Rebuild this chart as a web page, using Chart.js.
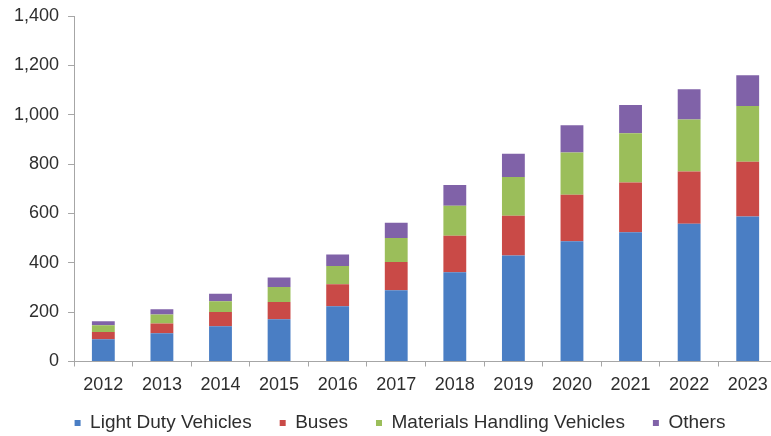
<!DOCTYPE html>
<html>
<head>
<meta charset="utf-8">
<script src="https://cdn.jsdelivr.net/npm/chart.js@4/dist/chart.umd.min.js"></script>
<style>
    html, body { margin: 0; padding: 0; background: #fff; overflow: hidden; }
    #wrap { width: 777px; height: 436px; }
</style>
</head>
<body>
<div id="wrap"><canvas id="marketChart" width="777" height="436"></canvas></div>
<script>
// Lata i wartości segmentów (stos)
const years = ['2012', '2013', '2014', '2015', '2016', '2017', '2018', '2019', '2020', '2021', '2022', '2023'];
const lightDuty = [90, 114, 143, 171, 224, 289, 362, 430, 487, 524, 558, 588];
const buses = [30, 40, 58, 70, 89, 114, 148, 161, 189, 201, 212, 221];
const materialsHandling = [27, 36, 43, 61, 74, 97, 121, 157, 171, 200, 211, 226];
const others = [16, 22, 31, 38, 47, 62, 84, 94, 110, 114, 122, 125];

const seriesNames = ['Light Duty Vehicles', 'Buses', 'Materials Handling Vehicles', 'Others'];
const seriesColors = ['#4A7EC4', '#C94A47', '#9BBE5A', '#8062A8'];

const axisColor = '#a6a6a6';
const textColor = '#2e2e2e';
const font = { family: 'Arial, "Liberation Sans", sans-serif', size: 18 };

const datasets = [lightDuty, buses, materialsHandling, others].map((values, i) => ({
    label: seriesNames[i],
    data: values,
    backgroundColor: seriesColors[i],
    borderWidth: 0,
    barPercentage: 0.39,
    categoryPercentage: 1
}));

// Oś X jest niska (afterFit), więc rozszerzamy obszar przycinania etykiet lat;
// legendę przesuwamy lekko w prawo
const layoutTweaks = {
    id: 'layoutTweaks',
    afterLayout(chart) {
        chart.scales.x.bottom = chart.height;
        chart.legend.left += 9;
        chart.legend.right += 9;
    }
};

new Chart(document.getElementById('marketChart'), {
    type: 'bar',
    data: { labels: years, datasets },
    plugins: [layoutTweaks],
    options: {
        responsive: false,
        animation: false,
        // ujemny dolny margines: legenda ma duży padding (odstępy między pozycjami)
        layout: { padding: { left: 5, right: 0, top: 0, bottom: -6.5 } },
        plugins: {
            tooltip: { enabled: false },
            legend: {
                position: 'bottom',
                labels: {
                    color: textColor,
                    font: { family: font.family, size: 19 },
                    boxWidth: 6,
                    boxHeight: 6,
                    padding: 28
                }
            }
        },
        scales: {
            x: {
                stacked: true,
                grid: {
                    offset: true,
                    drawOnChartArea: false,
                    drawTicks: true,
                    tickLength: 5,
                    color: axisColor
                },
                border: { color: axisColor, width: 1 },
                ticks: { color: textColor, font, padding: 8, maxRotation: 0 },
                afterFit: scale => { scale.height = 24; }
            },
            y: {
                stacked: true,
                min: 0,
                max: 1400,
                grid: {
                    drawOnChartArea: false,
                    drawTicks: true,
                    tickLength: 6,
                    color: axisColor
                },
                border: { color: axisColor, width: 1 },
                ticks: {
                    stepSize: 200,
                    color: textColor,
                    font,
                    padding: 9,
                    callback: v => v.toLocaleString('en-US')
                },
                afterFit: scale => { scale.paddingTop = 16; }
            }
        }
    }
});
</script>
</body>
</html>
